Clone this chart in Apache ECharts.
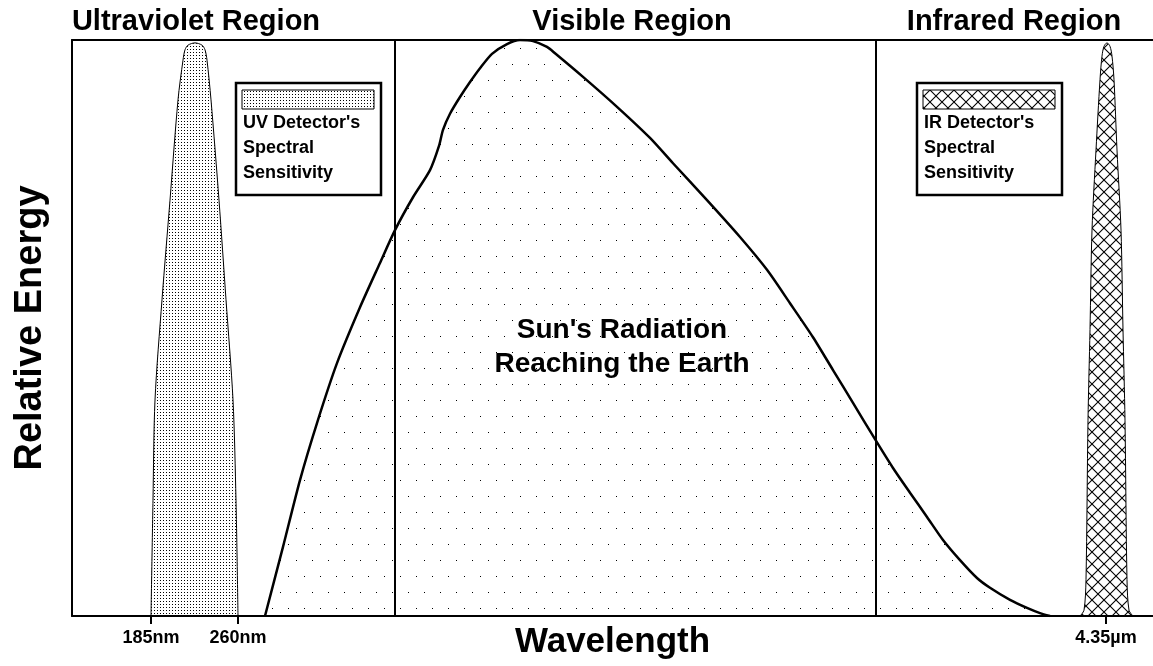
<!DOCTYPE html>
<html>
<head>
<meta charset="utf-8">
<script src="https://cdn.jsdelivr.net/npm/echarts@6/dist/echarts.min.js"></script>
<style>
  html, body { margin: 0; padding: 0; background: #fff; }
  #spectrum { width: 1153px; height: 666px; }
</style>
</head>
<body>
<div id="spectrum"></div>
<script>
// schematic wavelength axis (arbitrary units, not to scale) and relative energy 0..100
var tickWave = [7.9, 16.6, 103.4];
var tickLabels = ['185nm', '260nm', '4.35µm'];
var regionBounds = [32.3, 80.4];

// sun's radiation reaching the earth
var sunWave = [19.3, 21.1, 22.8, 24.5, 26.5, 28.8, 30.8, 32.3, 34.1, 35.8, 36.7, 37.1, 37.8, 38.8, 39.8, 40.8,
  42.0, 43.5, 44.8, 46.1, 47.5, 48.3, 51.1, 54.5, 57.8, 60.1, 63.5, 66.8, 69.5, 71.8, 74.1, 76.1, 78.1,
  80.3, 82.1, 83.8, 85.5, 87.1, 88.8, 90.5, 91.8, 93.8, 95.5, 96.8, 97.8];
var sunEnergy = [0, 12.0, 23.6, 33.5, 43.9, 53.6, 61.3, 67.0, 72.7, 77.4, 81.6, 84.4, 87.2, 90.1, 92.7, 95.1,
  97.6, 99.3, 100, 99.8, 98.8, 97.7, 93.6, 88.4, 83.0, 78.6, 72.2, 65.8, 60.1, 54.3, 48.4, 42.7, 37.0,
  30.7, 25.7, 21.4, 17.2, 13.2, 9.7, 6.6, 4.9, 2.8, 1.4, 0.5, 0];

// UV detector's spectral sensitivity
var uvWave = [7.9, 8.1, 8.3, 9.0, 9.8, 10.6, 11.1, 11.3, 11.6, 12.3, 13.0, 13.3, 13.5, 13.9, 14.7, 15.4, 16.1, 16.4, 16.6];
var uvEnergy = [0, 20.1, 37.5, 54.9, 72.2, 89.6, 96.5, 98.3, 99.1, 99.5, 99.1, 98.3, 96.5, 89.6, 72.2, 54.9, 37.5, 20.1, 0];

// IR detector's spectral sensitivity
var irWave = [100.8, 101.2, 101.4, 101.6, 101.8, 102.0, 102.4, 102.8, 103.0, 103.2, 103.5, 103.8, 104.0,
  104.2, 104.5, 104.9, 105.1, 105.3, 105.5, 105.7, 106.1];
var irEnergy = [0, 1.0, 6.3, 34.0, 49.7, 67.0, 80.9, 93.1, 97.2, 98.9, 99.5, 98.9, 97.2, 93.1, 80.9, 67.0,
  49.7, 34.0, 6.3, 1.0, 0];

function pairs(xs, ys) {
  return xs.map(function (x, i) { return [x, ys[i]]; });
}

// fill patterns
function dots(w, h, pts) {
  var c = document.createElement('canvas');
  c.width = w; c.height = h;
  var ctx = c.getContext('2d');
  ctx.fillStyle = '#000';
  pts.forEach(function (p) { ctx.fillRect(p[0], p[1], 1, 1); });
  return { image: c, repeat: 'repeat' };
}
function hatch(s) {
  var c = document.createElement('canvas');
  c.width = s; c.height = s;
  var ctx = c.getContext('2d');
  ctx.strokeStyle = '#000';
  ctx.lineWidth = 1.1;
  ctx.beginPath();
  ctx.moveTo(-1, -1); ctx.lineTo(s + 1, s + 1);
  ctx.moveTo(s + 1, -1); ctx.lineTo(-1, s + 1);
  ctx.stroke();
  return { image: c, repeat: 'repeat' };
}
var sparseDots = dots(16, 32, [[0, 0], [8, 16]]);
var denseDots = dots(3, 3, [[1, 1]]);
var crossHatch = hatch(12);

var FONT = "'Liberation Sans', Arial, sans-serif";
function label(txt, x, y, size, align) {
  return {
    type: 'text', x: x, y: y, z: 100,
    style: { text: txt, font: 'bold ' + size + 'px ' + FONT, fill: '#000',
      textAlign: align || 'center', textVerticalAlign: 'middle' }
  };
}
function legendBox(x, y, fill, lines) {
  var items = [
    { type: 'rect', shape: { x: x, y: y, width: 145, height: 112 },
      style: { fill: '#fff', stroke: '#000', lineWidth: 2.5 }, z: 90 },
    { type: 'rect', shape: { x: x + 6, y: y + 7, width: 132, height: 19 },
      style: { fill: fill, stroke: '#000', lineWidth: 1 }, z: 91 }
  ];
  lines.forEach(function (t, i) {
    items.push(label(t, x + 7, y + 40 + i * 25, 18, 'left'));
  });
  return items;
}

var myChart = echarts.init(document.getElementById('spectrum'));
myChart.setOption({
  animation: false,
  grid: { left: 72, right: 0, top: 40, bottom: 50, outerBoundsMode: 'none' },
  xAxis: [{
    type: 'value', min: 0, max: 108.1,
    axisLine: { lineStyle: { color: '#000', width: 2 } },
    axisTick: { customValues: tickWave, length: 8, lineStyle: { color: '#000', width: 2 } },
    axisLabel: {
      customValues: tickWave, margin: 13, color: '#000', fontWeight: 'bold', fontSize: 18, fontFamily: FONT,
      formatter: function (v) {
        var best = 0;
        tickWave.forEach(function (t, i) { if (Math.abs(t - v) < Math.abs(tickWave[best] - v)) best = i; });
        return tickLabels[best];
      }
    },
    splitLine: { show: false },
    name: 'Wavelength', nameLocation: 'middle', nameGap: 9, nameMoveOverlap: false,
    nameTextStyle: { color: '#000', fontWeight: 'bold', fontSize: 35, fontFamily: FONT }
  }, {
    type: 'value', min: 0, max: 108.1, position: 'top',
    axisLine: { lineStyle: { color: '#000', width: 2 } },
    axisTick: { show: false }, axisLabel: { show: false }, splitLine: { show: false }
  }],
  yAxis: {
    type: 'value', min: 0, max: 100,
    axisLine: { show: true, lineStyle: { color: '#000', width: 2 } },
    axisTick: { show: false }, axisLabel: { show: false }, splitLine: { show: false },
    name: 'Relative Energy', nameLocation: 'middle', nameGap: 22, nameMoveOverlap: false,
    nameTextStyle: { color: '#000', fontWeight: 'bold', fontSize: 38, fontFamily: FONT }
  },
  series: [{
    name: "Sun's Radiation", type: 'line', data: pairs(sunWave, sunEnergy),
    symbol: 'none', smooth: 0.25, z: 2,
    lineStyle: { color: '#000', width: 2.5 },
    areaStyle: { color: sparseDots, opacity: 1 },
    markLine: {
      silent: true, symbol: 'none', label: { show: false },
      lineStyle: { color: '#000', width: 2, type: 'solid' },
      data: regionBounds.map(function (b) { return { xAxis: b }; })
    }
  }, {
    name: 'UV', type: 'line', data: pairs(uvWave, uvEnergy),
    symbol: 'none', smooth: 0.3, z: 3,
    lineStyle: { color: '#000', width: 1 },
    areaStyle: { color: denseDots, opacity: 1 }
  }, {
    name: 'IR', type: 'line', data: pairs(irWave, irEnergy),
    symbol: 'none', smooth: 0.3, z: 3,
    lineStyle: { color: '#000', width: 1 },
    areaStyle: { color: crossHatch, opacity: 1 }
  }],
  graphic: [
    label('Ultraviolet Region', 196, 22, 29),
    label('Visible Region', 632, 22, 29),
    label('Infrared Region', 1014, 22, 29),
    label("Sun's Radiation", 622, 330, 28),
    label('Reaching the Earth', 622, 364, 28)
  ].concat(
    legendBox(236, 83, denseDots, ["UV Detector's", 'Spectral', 'Sensitivity']),
    legendBox(917, 83, crossHatch, ["IR Detector's", 'Spectral', 'Sensitivity'])
  )
});
</script>
</body>
</html>
